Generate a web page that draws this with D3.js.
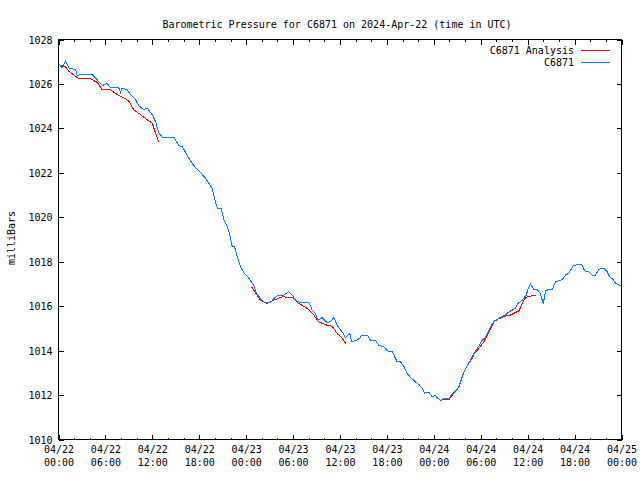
<!DOCTYPE html>
<html>
<head>
<meta charset="utf-8">
<script src="https://cdn.jsdelivr.net/npm/d3@7"></script>
<style>
  html, body { margin: 0; padding: 0; background: #fff; }
  svg { display: block; }
  text { font-family: "DejaVu Sans Mono", "Liberation Mono", monospace; font-size: 10px; fill: #000; }
</style>
</head>
<body>
<svg id="chart" width="640" height="480"></svg>
<script>
// ---- Data (hours since 2024-04-22 00:00 UTC, pressure in mb) ----
const stationHours = [0.04,0.47,0.90,1.32,2.17,2.39,2.81,4.31,4.73,5.59,6.23,6.65,7.71,7.93,8.15,8.79,9.21,9.85,10.27,10.91,11.34,11.98,12.41,12.83,13.26,14.75,15.39,15.82,16.66,17.14,17.65,18.16,18.80,19.22,19.66,19.95,20.30,20.81,21.14,21.58,21.91,22.22,22.51,22.85,23.28,23.70,24.13,24.56,24.98,25.32,25.83,26.35,27.11,27.63,28.17,28.81,29.45,29.89,30.31,30.95,31.37,32.01,32.45,32.87,33.16,33.73,34.28,34.79,35.21,35.64,36.28,36.71,37.26,37.47,38.05,38.56,38.75,39.48,39.90,40.54,40.96,41.60,42.04,42.68,43.32,43.74,44.16,44.60,45.02,45.66,46.08,46.52,46.81,47.36,47.79,48.22,48.43,48.89,49.28,49.92,50.35,50.99,51.41,51.92,52.37,52.91,53.33,53.75,54.19,54.61,55.03,55.47,55.89,56.53,57.17,57.59,58.45,58.74,59.30,59.82,60.07,60.37,60.79,61.22,61.64,61.99,62.28,62.71,63.14,63.56,63.99,64.42,64.84,65.26,65.83,66.54,66.98,67.27,67.82,68.26,68.68,69.10,69.74,70.17,70.47,70.94,71.24,71.66,71.97];
const stationValues = [1026.92,1026.72,1027.02,1026.72,1026.65,1026.38,1026.42,1026.42,1026.27,1025.93,1026.02,1025.82,1025.82,1025.62,1025.82,1025.74,1025.52,1025.29,1025.02,1024.84,1024.92,1024.62,1024.31,1023.79,1023.61,1023.61,1023.22,1023.19,1022.66,1022.40,1022.20,1022.01,1021.76,1021.53,1021.31,1020.86,1020.41,1020.41,1019.88,1019.58,1019.20,1018.68,1018.68,1018.23,1017.77,1017.50,1017.36,1017.14,1016.95,1016.57,1016.35,1016.15,1016.15,1016.38,1016.50,1016.50,1016.65,1016.50,1016.27,1016.15,1016.17,1016.17,1015.82,1015.66,1015.37,1015.49,1015.28,1015.29,1015.49,1015.14,1014.84,1014.58,1014.77,1014.40,1014.45,1014.57,1014.70,1014.70,1014.47,1014.45,1014.24,1014.17,1013.99,1013.95,1013.49,1013.49,1013.30,1012.97,1012.79,1012.59,1012.48,1012.29,1012.09,1012.14,1011.91,1011.99,1011.88,1011.76,1011.84,1011.84,1012.06,1012.25,1012.55,1013.10,1013.37,1013.65,1013.98,1014.20,1014.47,1014.59,1014.92,1015.22,1015.37,1015.49,1015.60,1015.74,1015.90,1016.12,1016.27,1016.50,1016.80,1016.99,1016.75,1016.75,1016.57,1016.09,1016.69,1016.75,1016.75,1017.10,1017.14,1017.20,1017.40,1017.48,1017.81,1017.90,1017.85,1017.59,1017.55,1017.40,1017.40,1017.66,1017.70,1017.55,1017.33,1017.20,1017.02,1016.95,1016.90];

// Analysis series: null separates the three analysis runs
const analysisHours = [0.04,0.90,1.32,2.60,4.09,4.95,5.59,6.65,7.51,8.57,8.99,9.63,10.49,11.34,11.98,12.41,12.83,
  null,
  24.68,25.20,25.83,26.69,27.54,28.61,29.89,30.73,31.81,32.65,33.29,34.36,35.00,35.64,36.28,36.79,
  null,
  48.86,49.92,50.35,50.77,51.20,51.63,52.05,52.47,53.11,53.75,54.39,55.03,55.67,56.31,57.17,57.81,58.45,58.89,59.30,59.73,60.37,61.00];
const analysisValues = [1026.87,1026.77,1026.57,1026.23,1026.23,1026.07,1025.74,1025.74,1025.52,1025.33,1025.22,1024.84,1024.62,1024.39,1024.24,1023.79,1023.39,
  null,
  1016.88,1016.60,1016.27,1016.12,1016.27,1016.42,1016.39,1016.12,1015.90,1015.60,1015.29,1015.14,1015.10,1014.77,1014.55,1014.29,
  null,
  1011.79,1011.79,1011.99,1012.18,1012.36,1012.84,1013.19,1013.44,1013.87,1014.09,1014.39,1014.84,1015.29,1015.44,1015.55,1015.60,1015.72,1015.79,1016.12,1016.39,1016.45,1016.50];

const yTicks = [1010,1012,1014,1016,1018,1020,1022,1024,1026,1028];
const xTickHours = [0,6,12,18,24,30,36,42,48,54,60,66,72];
const seriesNames = ["C6871 Analysis", "C6871"];
const seriesColors = ["#ff0000", "#0080ff"];
const titleText = "Barometric Pressure for C6871 on 2024-Apr-22 (time in UTC)";
const yLabel = "milliBars";

// ---- Chart ----
const start = Date.UTC(2024, 3, 22, 0, 0);
const toDate = h => new Date(start + h * 3600e3);

const L = 58.5, R = 621.5, T = 39.5, B = 439.5;
const svg = d3.select("#chart");

const x = d3.scaleUtc().domain([toDate(0), toDate(72)]).range([L, R]);
const y = d3.scaleLinear().domain([1010, 1028]).range([B, T]);

const fmtDate = d3.utcFormat("%m/%d");
const fmtTime = d3.utcFormat("%H:%M");

const minorTicks = d3.range(0, 73, 2).filter(h => h % 6 !== 0).map(toDate);
const majorTicks = xTickHours.map(toDate);

const g = svg.append("g").attr("shape-rendering", "crispEdges");

const xAxisB = d3.axisBottom(x).tickValues(majorTicks).tickSize(-5).tickFormat("");
const xAxisBm = d3.axisBottom(x).tickValues(minorTicks).tickSize(-2).tickFormat("");
const xAxisT = d3.axisTop(x).tickValues(majorTicks).tickSize(-5).tickFormat("");
const xAxisTm = d3.axisTop(x).tickValues(minorTicks).tickSize(-2).tickFormat("");
const yAxisL = d3.axisLeft(y).tickValues(yTicks).tickSize(-5).tickFormat(d3.format("d"));
const yAxisR = d3.axisRight(y).tickValues(yTicks).tickSize(-5).tickFormat("");

function style(sel) {
  sel.select(".domain").remove();
  sel.selectAll(".tick line").attr("stroke", "#000");
  sel.selectAll("text").attr("fill", "#000");
  sel.attr("font-family", null).attr("font-size", null);
}

const gb = g.append("g").attr("transform", `translate(0,${B})`).call(xAxisB).call(style);
g.append("g").attr("transform", `translate(0,${B})`).call(xAxisBm).call(style);
g.append("g").attr("transform", `translate(0,${T})`).call(xAxisT).call(style);
g.append("g").attr("transform", `translate(0,${T})`).call(xAxisTm).call(style);
const gl = g.append("g").attr("transform", `translate(${L},0)`).call(yAxisL).call(style);
g.append("g").attr("transform", `translate(${R},0)`).call(yAxisR).call(style);

gl.selectAll(".tick text").attr("x", -6).attr("dy", "0.35em");

// two-line x labels
gb.selectAll(".tick").each(function(d) {
  const t = d3.select(this).append("text").attr("text-anchor", "middle").attr("fill", "#000");
  t.append("tspan").attr("x", 0).attr("y", 13).text(fmtDate(d));
  t.append("tspan").attr("x", 0).attr("y", 26).text(fmtTime(d));
});

// frame
g.append("rect").attr("x", L).attr("y", T).attr("width", R - L).attr("height", B - T)
  .attr("fill", "none").attr("stroke", "#000");

// lines
const stationData = stationHours.map((h, i) => ({ t: toDate(h), v: stationValues[i] }));
const analysisData = analysisHours.map((h, i) => ({ t: h === null ? null : toDate(h), v: analysisValues[i] }));

const line = d3.line().defined(d => d.v !== null).x(d => x(d.t)).y(d => y(d.v));

svg.append("clipPath").attr("id", "plotclip")
  .append("rect").attr("x", L).attr("y", T).attr("width", R - L).attr("height", B - T);

const plot = svg.append("g").attr("clip-path", "url(#plotclip)").attr("shape-rendering", "crispEdges");
plot.append("path").datum(analysisData).attr("d", line)
  .attr("fill", "none").attr("stroke", seriesColors[0]).attr("stroke-width", 1);
plot.append("path").datum(stationData).attr("d", line)
  .attr("fill", "none").attr("stroke", seriesColors[1]).attr("stroke-width", 1);

// legend
const legendY = [50, 62];
seriesNames.forEach((name, i) => {
  svg.append("text").attr("x", 574).attr("y", legendY[i]).attr("dy", "0.35em")
    .attr("text-anchor", "end").text(name);
  svg.append("line").attr("x1", 581).attr("x2", 610).attr("y1", legendY[i] + 0.5).attr("y2", legendY[i] + 0.5)
    .attr("stroke", seriesColors[i]).attr("shape-rendering", "crispEdges");
});

// title
svg.append("text").attr("x", 337).attr("y", 27.5).attr("text-anchor", "middle").text(titleText);

// y label
svg.append("text").attr("transform", "translate(15,238) rotate(-90)").attr("text-anchor", "middle").text(yLabel);
</script>
</body>
</html>
